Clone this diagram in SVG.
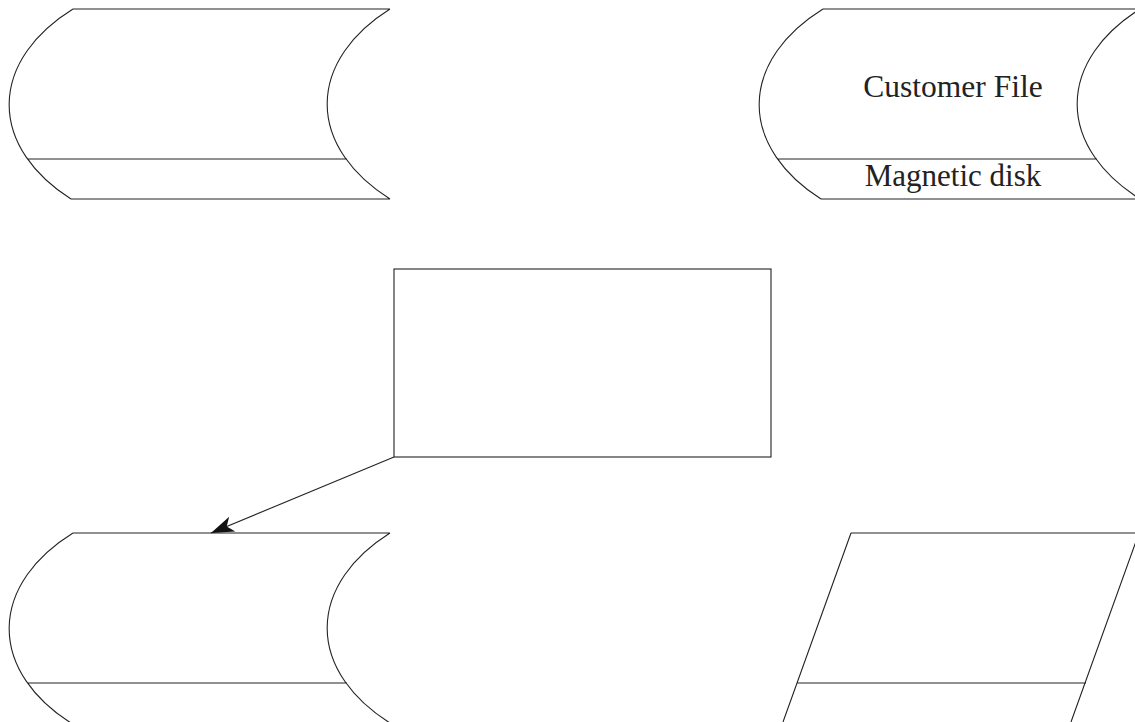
<svg xmlns="http://www.w3.org/2000/svg" width="1135" height="722" viewBox="0 0 1135 722">
<style>
.s{fill:none;stroke:#222;stroke-width:1.1}
.t{font-family:"Liberation Serif","Times New Roman",serif;fill:#222;text-anchor:middle}
</style>
<defs>
<marker id="ah" markerUnits="userSpaceOnUse" markerWidth="26" markerHeight="20" viewBox="0 -10 26 20" refX="23" refY="0" orient="auto">
<path d="M0,-8 L23,0 L0,8 L6,0 Z" fill="#111"/>
</marker>
<g id="disk">
<path class="s" d="M73,9 L390,9 M71,199 L390,199 M73,9 A217,135 0 0 0 71,199 M390,9 A217,135 0 0 0 390,199 M28,159 L347,159"/>
</g>
</defs>
<g id="node-disk1"><use href="#disk"/></g>
<g id="node-customer-file">
<use href="#disk" transform="translate(750,0)"/>
<text class="t" x="953" y="97" font-size="31.5">Customer File</text>
<text class="t" x="953" y="186" font-size="31">Magnetic disk</text>
</g>
<g id="node-process"><rect class="s" x="394" y="269" width="377" height="188"/></g>
<g id="node-disk2"><use href="#disk" transform="translate(0,524)"/></g>
<g id="node-parallelogram">
<path class="s" d="M851,533 L1140,533 M851,533 L783,722 M1139,533 L1071,722 M797,683 L1086,683"/>
</g>
<g id="connectors">
<path class="s" d="M394,457 L211,533" marker-end="url(#ah)"/>
</g>
</svg>
